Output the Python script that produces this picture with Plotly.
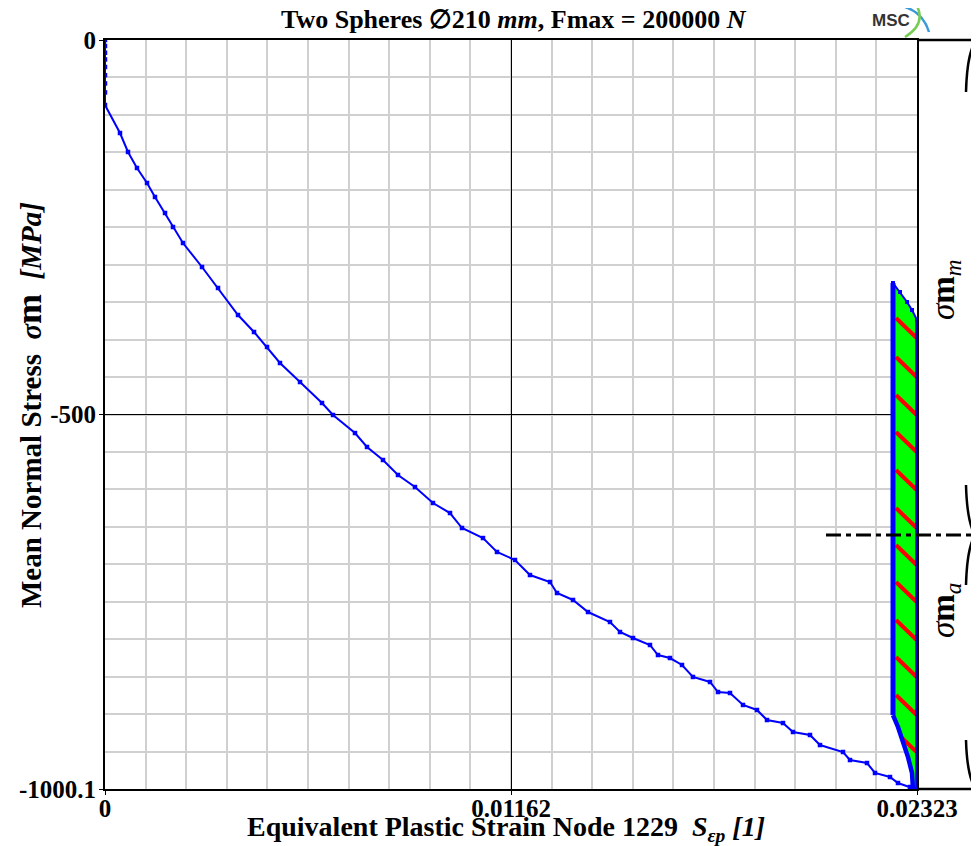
import plotly.graph_objects as go

# ---------------- data ----------------
strain = [0, 0, 0, 0, 0, 0, 0, 0, 0,
          0.000429, 0.000658, 0.000915, 0.001202, 0.001430, 0.001717, 0.001945, 0.002231,
          0.002775, 0.003233, 0.003805, 0.004263, 0.004635, 0.005006, 0.005579, 0.006208,
          0.006523, 0.007152, 0.007495, 0.007953, 0.008382, 0.008868, 0.009383, 0.009870,
          0.010213, 0.010814, 0.011214, 0.011729, 0.012158, 0.012731, 0.012931, 0.013389,
          0.013818, 0.014447, 0.014733, 0.015105, 0.015591, 0.015820, 0.016163, 0.016507,
          0.016821, 0.017308, 0.017537, 0.017880, 0.018252, 0.018652, 0.018939, 0.019396,
          0.019682, 0.020169, 0.020455, 0.021113, 0.021313, 0.021799, 0.022028, 0.022457,
          0.022686, 0.023029, 0.023173]
stress = [0, -8, -17, -26, -36, -47, -58, -70, -86.8,
          -124.2, -149.5, -170.9, -190.9, -209.6, -231.0, -249.7, -271.1,
          -303.1, -331.1, -367.2, -389.9, -409.9, -431.3, -456.7, -484.7,
          -500.7, -524.8, -543.4, -560.8, -580.8, -596.9, -618.2, -631.6,
          -651.6, -665.0, -683.6, -694.3, -714.4, -723.7, -738.4, -747.7,
          -763.8, -777.1, -790.5, -798.5, -807.8, -821.2, -825.2, -834.5,
          -850.5, -857.2, -870.6, -871.9, -887.9, -894.6, -908.0, -912.0,
          -924.0, -928.0, -941.4, -950.7, -961.4, -965.4, -978.7, -984.1,
          -992.1, -997.4, -1000.1]

# cyclic range region (sigma_m amplitude band)
band_strain = [0.022543, 0.022743, 0.022944, 0.023087, 0.02323, 0.02323,
               0.023115, 0.023087, 0.022972, 0.022829, 0.022686, 0.022543]
band_stress = [-324.5, -336.5, -349.8, -360.5, -373.9, -1000.1,
               -1000.1, -978.7, -957.4, -934.7, -917.3, -901.3]

hatch_start_stress = [-371.2, -423.3, -474.0, -523.4, -574.2, -624.9,
                      -674.3, -723.7, -774.5, -823.9, -874.6, -932.0]
hatch_start_strain = [0.022629] * 11 + [0.022801]
hatch_end_strain = 0.02322
hatch_drop = 26.7

mean_stress_level = -660.9
x_max = 0.02323
y_min = -1000.1
x_ticks = [0, 0.01162, 0.02323]
x_ticklabels = ["0", "0.01162", "0.02323"]
y_ticks = [y_min, -500, 0]
y_ticklabels = ["-1000.1", "-500", "0"]

SERIF = "Liberation Serif"
OFF = 8  # page body margin

# ---------------- figure ----------------
fig = go.Figure()

fig.add_trace(go.Scatter(x=band_strain, y=band_stress, fill="toself", fillcolor="#00ff00",
                         mode="lines", line=dict(width=0), hoverinfo="skip", showlegend=False))

hx, hy = [], []
for s, x0 in zip(hatch_start_stress, hatch_start_strain):
    frac = (x0 - hatch_start_strain[0]) / (hatch_end_strain - hatch_start_strain[0])
    hx += [x0, hatch_end_strain, None]
    hy += [s, s - hatch_drop * (1 - frac), None]
fig.add_trace(go.Scatter(x=hx, y=hy, mode="lines", line=dict(color="#ff0000", width=4),
                         hoverinfo="skip", showlegend=False))

fig.add_trace(go.Scatter(x=[band_strain[0], band_strain[-1]], y=[band_stress[0], band_stress[-1]],
                         mode="lines", line=dict(color="#0000ff", width=5), showlegend=False))
fig.add_trace(go.Scatter(x=band_strain[0:5], y=band_stress[0:5], mode="lines+markers",
                         line=dict(color="#0000ff", width=2), marker=dict(size=4, symbol="square", color="#0000ff"),
                         showlegend=False))
fig.add_trace(go.Scatter(x=band_strain[4:6], y=band_stress[4:6], mode="lines",
                         line=dict(color="#0000cc", width=3.5), showlegend=False))
fig.add_trace(go.Scatter(x=band_strain[6:], y=band_stress[6:], mode="lines",
                         line=dict(color="#0000ff", width=4.5), showlegend=False))

fig.add_trace(go.Scatter(x=strain, y=stress, mode="lines+markers",
                         line=dict(color="#0000ff", width=2),
                         marker=dict(size=4.5, symbol="square", color="#0000ff"),
                         showlegend=False))

# ---------------- axes ----------------
x_minor = [k * x_max / 20 for k in range(21)]
y_minor = [k * y_min / 20 for k in range(21)]
common = dict(showgrid=True, gridcolor="black", gridwidth=1.2,
              showline=True, linecolor="black", linewidth=2, mirror=True,
              ticks="outside", ticklen=4, tickcolor="black", zeroline=False,
              tickfont=dict(family=SERIF, size=25, color="black"))
fig.update_xaxes(range=[0, x_max], tickvals=x_ticks, ticktext=["<b>%s</b>" % t for t in x_ticklabels],
                 minor=dict(tickvals=x_minor, showgrid=True, gridcolor="#d0d0d0", gridwidth=1.6, ticks=""),
                 ticklabelstandoff=-8, **common)
fig.update_yaxes(range=[y_min, 0], tickvals=y_ticks, ticktext=["<b>%s</b>" % t for t in y_ticklabels],
                 minor=dict(tickvals=y_minor, showgrid=True, gridcolor="#d0d0d0", gridwidth=1.6, ticks=""),
                 ticklabelstandoff=-2, **common)

# screen pixel -> paper helpers (screen coords of plot area)
L, R, T, B = 105, 917, 40, 789
def px(x):
    return (x - L) / (R - L)
def py(y):
    return (B - y) / (B - T)

shapes = []
shapes.append(dict(type="line", xref="paper", yref="paper", x0=px(917), x1=px(979), y0=py(40), y1=py(40),
                   line=dict(color="black", width=2.5)))
shapes.append(dict(type="line", xref="paper", yref="paper", x0=px(917), x1=px(976), y0=py(789), y1=py(789),
                   line=dict(color="black", width=2.5)))
shapes.append(dict(type="line", xref="paper", yref="paper", x0=px(975), x1=px(975), y0=py(40), y1=py(789),
                   line=dict(color="black", width=2)))
y_mean_px = T + (-mean_stress_level) / (-y_min) * (B - T)
shapes.append(dict(type="line", xref="paper", yref="paper", x0=px(826), x1=px(979),
                   y0=py(y_mean_px), y1=py(y_mean_px),
                   line=dict(color="black", width=3, dash="15px,5px,5px,5px")))

def path(pts):
    s = "M %f,%f" % (px(pts[0][0]), py(pts[0][1]))
    for i in range(1, len(pts), 2):
        s += " Q %f,%f %f,%f" % (px(pts[i][0]), py(pts[i][1]), px(pts[i + 1][0]), py(pts[i + 1][1]))
    return s
brace_segments = [
    [(975, 42), (967, 55), (966, 92)],
    [(966, 485), (967, 522), (975, 535), (967, 548), (966, 585)],
    [(966, 740), (967, 775), (975, 788)],
]
for seg in brace_segments:
    shapes.append(dict(type="path", xref="paper", yref="paper", path=path(seg),
                       line=dict(color="black", width=2.5)))

shapes.append(dict(type="path", xref="paper", yref="paper",
                   path=path([(897, 5), (922, 9), (929, 32)]), line=dict(color="#3a9ad9", width=2.5)))
shapes.append(dict(type="path", xref="paper", yref="paper",
                   path=path([(917, 6), (926, 24), (905, 37)]), line=dict(color="#77cc55", width=2.5)))

annotations = [
    dict(text="<b>Two Spheres \u2205210 <i>mm</i>, Fmax = 200000 <i>N</i></b>",
         x=px(514), y=py(20), xref="paper", yref="paper", showarrow=False,
         font=dict(family=SERIF, size=26, color="black"), xanchor="center", yanchor="middle"),
    dict(text="<b>Equivalent Plastic Strain Node 1229  <i>S<sub>\u03b5p</sub> [1]</i></b>",
         x=px(506), y=py(828), xref="paper", yref="paper", showarrow=False,
         font=dict(family=SERIF, size=28, color="black"), xanchor="center", yanchor="middle"),
    dict(text="<b>Mean Normal Stress  <i>\u03c3</i><span style='font-size:36px'>m</span>  <i>[MPa]</i></b>",
         x=px(29), y=py(405), xref="paper", yref="paper", showarrow=False, textangle=-90,
         font=dict(family=SERIF, size=29, color="black"), xanchor="center", yanchor="middle"),
    dict(text="<i>\u03c3</i><b>m</b><sub><i>m</i></sub>",
         x=px(945), y=py(290), xref="paper", yref="paper", showarrow=False, textangle=-90,
         font=dict(family=SERIF, size=33, color="black"), xanchor="center", yanchor="middle"),
    dict(text="<i>\u03c3</i><b>m</b><sub><i>a</i></sub>",
         x=px(945), y=py(611), xref="paper", yref="paper", showarrow=False, textangle=-90,
         font=dict(family=SERIF, size=33, color="black"), xanchor="center", yanchor="middle"),
    dict(text="<b>MSC</b>", x=px(891), y=py(21), xref="paper", yref="paper", showarrow=False,
         font=dict(family="Liberation Sans Narrow, Liberation Sans", size=17, color="#333333"),
         xanchor="center", yanchor="middle"),
]

fig.update_layout(width=979 - OFF, height=846 - OFF, plot_bgcolor="white", paper_bgcolor="white",
                  margin=dict(l=L - OFF, r=979 - R, t=T - OFF, b=846 - B, autoexpand=False),
                  shapes=shapes, annotations=annotations, showlegend=False)

fig.write_html("out.html")
